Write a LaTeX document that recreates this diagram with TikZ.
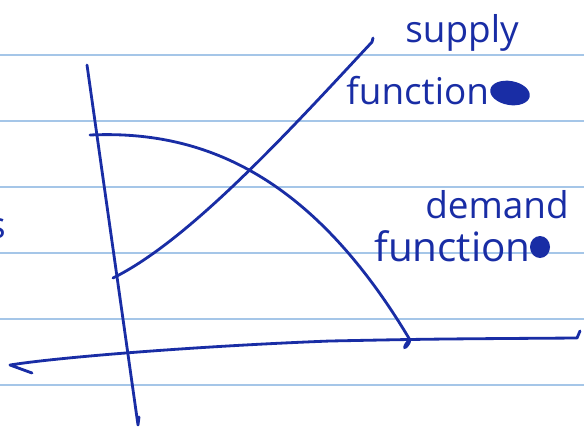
\documentclass[tikz,border=0pt]{standalone}
\usepackage{fontspec}
\setmainfont{Open Sans}
\usetikzlibrary{positioning,calc}
\definecolor{ink}{RGB}{25,45,165}
\definecolor{rule}{RGB}{165,198,232}
\tikzset{
  pen/.style={draw=ink, line width=1.6pt, line cap=round, line join=round},
  ruling/.style={draw=rule, line width=1.1pt},
  scrawl/.style={text=ink, font=\fontsize{21}{21}\selectfont, inner sep=0pt},
  blot/.style={fill=ink},
}

\begin{document}
\begin{tikzpicture}[x=0.02cm,y=-0.02cm]
  \useasboundingbox[fill=white] (0,0) rectangle (584,433);
  % ── ruled paper ───────────────────────────────────────────────────
  \foreach \y in {55,121,187,253,319,385}
    \draw[ruling] (0,\y) -- (584,\y);
  % ── axes ──────────────────────────────────────────────────────────
  \coordinate (ytop) at (87,65);
  \coordinate (ybot) at (138,425);
  \draw[pen] (ytop) -- (ybot) -- ++(1,-8);
  \coordinate (xleft) at (10,365);
  \coordinate (xhook) at (32,373);
  \coordinate (xright) at (577,338);
  \draw[pen] (xhook) -- (xleft) .. controls (60,357) and (200,346) .. (330,341)
    .. controls (430,339) .. (xright) -- ++(3,-7);
  % ── curves ────────────────────────────────────────────────────────
  \coordinate (dstart) at (90,135);
  \coordinate (dend) at (410,340);
  \draw[pen] (dstart) .. controls (200,130) and (310,172) .. (dend);
  \fill[blot, rotate around={55:(dend)}] (dend) ++(-5,0) ellipse[x radius=6, y radius=2.4];
  \coordinate (sstart) at (113,278);
  \coordinate (send) at (372,42);
  \draw[pen] (sstart) .. controls (190,240) and (290,130) .. (send) -- ++(1,-4);
  % ── labels ────────────────────────────────────────────────────────
  \node[scrawl] (supplyword) at (462,33) {supply};
  \node[scrawl, anchor=west] (supplyfn) at (346,91) {function};
  \fill[blot, rotate around={-10:(510,93)}] (510,93) ellipse[x radius=20, y radius=12];
  \node[scrawl] (demandword) at (497,205) {demand};
  \node[scrawl, anchor=west, font=\fontsize{23}{23}\selectfont] (demandfn) at (374,246) {function};
  \fill[blot] (540,247) ellipse[x radius=10, y radius=11];
  \node[scrawl] (cutletter) at (-3,229) {s};
\end{tikzpicture}
\end{document}
